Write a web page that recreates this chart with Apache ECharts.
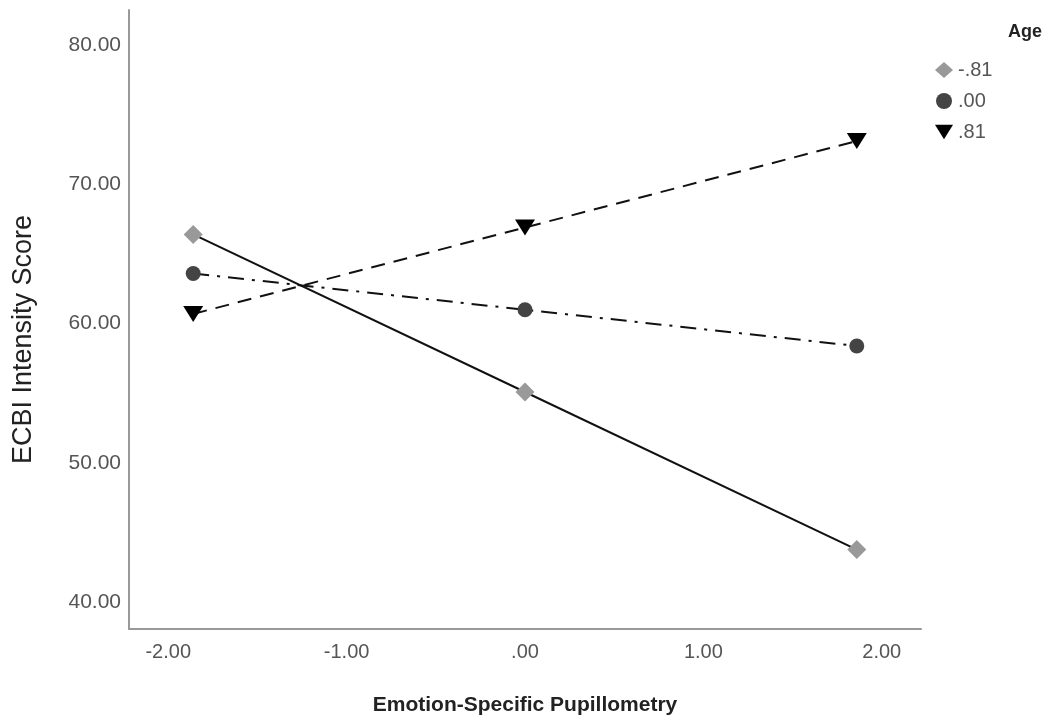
<!DOCTYPE html>
<html>
<head>
<meta charset="utf-8">
<script src="https://cdn.jsdelivr.net/npm/echarts@6/dist/echarts.min.js"></script>
<style>
  html, body { margin: 0; padding: 0; background: #fff; }
  #main { width: 1055px; height: 721px; }
</style>
</head>
<body>
<div id="main"></div>
<script>
// x positions (pupillometry, -1 SD / mean / +1 SD)
var xValues = [-1.86, 0, 1.86];
// ECBI Intensity Score for each Age level
var ageNames = ['-.81', '.00', '.81'];
var ageLow = [66.4, 55.1, 43.8];
var ageMid = [63.6, 61.0, 58.4];
var ageHigh = [60.7, 66.9, 73.1];
var xTicks = [-2, -1, 0, 1, 2];
var yTicks = [40, 50, 60, 70, 80];

var fontFam = '"Liberation Sans", Arial, sans-serif';
var triPath = 'path://M0,0 L20,0 L10,16 Z';

// SPSS style numbers: no leading zero
var fmt = function(v) {
    return v.toFixed(2).replace(/^(-?)0\./, '$1.');
};
var pairs = function(ys) {
    var out = [];
    for (var i = 0; i < xValues.length; i++) {
        out.push([xValues[i], ys[i]]);
    }
    return out;
};

var chart = echarts.init(document.getElementById('main'));
var option = {
    animation: false,
    backgroundColor: '#fff',
    title: {
        text: 'Age',
        right: 8,
        top: 18,
        textStyle: { fontFamily: fontFam, fontSize: 18, fontWeight: 'bold', color: '#222' }
    },
    legend: {
        orient: 'vertical',
        left: 930,
        top: 55,
        itemWidth: 18,
        itemHeight: 16,
        itemGap: 11,
        textStyle: { fontFamily: fontFam, fontSize: 20, color: '#555', lineHeight: 19 },
        data: [
            { name: ageNames[0], icon: 'diamond', itemStyle: { color: '#999' } },
            { name: ageNames[1], icon: 'circle', itemStyle: { color: '#444' } },
            { name: ageNames[2], icon: triPath, itemStyle: { color: '#000' } }
        ]
    },
    grid: { left: 129, right: 134, top: 10, bottom: 89 },
    xAxis: {
        type: 'value',
        min: -2.22,
        max: 2.22,
        name: 'Emotion-Specific Pupillometry',
        nameLocation: 'middle',
        nameGap: 66,
        nameTextStyle: { fontFamily: fontFam, fontSize: 21, fontWeight: 'bold', color: '#222' },
        axisLine: { onZero: false, lineStyle: { color: '#999', width: 2 } },
        axisTick: { show: false },
        splitLine: { show: false },
        axisLabel: {
            customValues: xTicks,
            formatter: fmt,
            margin: 13,
            fontFamily: fontFam,
            fontSize: 20,
            color: '#555'
        }
    },
    yAxis: {
        type: 'value',
        min: 38.1,
        max: 82.5,
        name: 'ECBI Intensity Score',
        nameLocation: 'middle',
        nameGap: 92,
        nameTextStyle: { fontFamily: fontFam, fontSize: 27, color: '#222', padding: [0, 40, 0, 0] },
        axisLine: { show: true, onZero: false, lineStyle: { color: '#999', width: 2 } },
        axisTick: { show: false },
        splitLine: { show: false },
        axisLabel: {
            customValues: yTicks,
            formatter: fmt,
            margin: 8,
            fontFamily: fontFam,
            fontSize: 21,
            color: '#555'
        }
    },
    series: [
        {
            name: ageNames[0],
            type: 'line',
            data: pairs(ageLow),
            symbol: 'diamond',
            symbolSize: 19,
            itemStyle: { color: '#999' },
            lineStyle: { color: '#111', width: 2, type: 'solid' },
            z: 3
        },
        {
            name: ageNames[1],
            type: 'line',
            data: pairs(ageMid),
            symbol: 'circle',
            symbolSize: 15,
            itemStyle: { color: '#444' },
            lineStyle: { color: '#111', width: 2, type: [16, 8, 3, 8] },
            z: 3
        },
        {
            name: ageNames[2],
            type: 'line',
            data: pairs(ageHigh),
            symbol: triPath,
            symbolSize: [20, 16],
            itemStyle: { color: '#000' },
            lineStyle: { color: '#111', width: 2, type: [14, 9] },
            z: 3
        }
    ]
};
chart.setOption(option);
</script>
</body>
</html>
